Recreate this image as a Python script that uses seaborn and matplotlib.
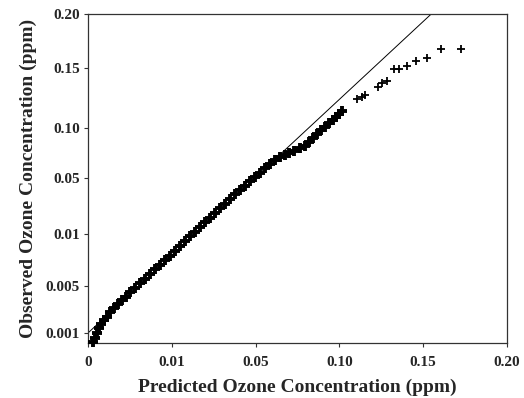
import numpy as np
import pandas as pd
import matplotlib
matplotlib.use("Agg")
import matplotlib.pyplot as plt
import seaborn as sns

# quantile pairs (ppm)
pred_q = [0.0006, 0.0008, 0.0011, 0.0013, 0.0015, 0.0019, 0.0023, 0.0026, 0.0031, 0.0036,
          0.0040, 0.0045, 0.0050, 0.0056, 0.0062, 0.0068, 0.0074, 0.0080, 0.0086, 0.0092,
          0.0098, 0.0114, 0.0138, 0.0162, 0.0186, 0.0210, 0.0233, 0.0257, 0.0281, 0.0305,
          0.0329, 0.0352, 0.0376, 0.0400, 0.0424, 0.0448, 0.0471, 0.0495, 0.0524, 0.0554,
          0.0583, 0.0613, 0.0643, 0.0673, 0.0702, 0.0732, 0.0762, 0.0792, 0.0821, 0.0845,
          0.0869, 0.0893, 0.0917, 0.0940, 0.0964, 0.0982, 0.1000, 0.1018,
          0.1107, 0.1137, 0.1155, 0.1232, 0.1256, 0.1286, 0.1327, 0.1357, 0.1405, 0.1458,
          0.1524, 0.1607, 0.1726]
obs_q = [0.0001, 0.0005, 0.0010, 0.0014, 0.0018, 0.0021, 0.0024, 0.0028, 0.0031, 0.0035,
         0.0038, 0.0041, 0.0045, 0.0048, 0.0053, 0.0057, 0.0062, 0.0066, 0.0070, 0.0075,
         0.0079, 0.0084, 0.0088, 0.0093, 0.0098, 0.0114, 0.0150, 0.0186, 0.0214, 0.0250,
         0.0286, 0.0314, 0.0350, 0.0386, 0.0414, 0.0443, 0.0479, 0.0510, 0.0550, 0.0600,
         0.0640, 0.0680, 0.0710, 0.0730, 0.0750, 0.0770, 0.0800, 0.0820, 0.0860, 0.0900,
         0.0940, 0.0980, 0.1008, 0.1042, 0.1067, 0.1092, 0.1117, 0.1142,
         0.1242, 0.1258, 0.1275, 0.1342, 0.1375, 0.1392, 0.1492, 0.1492, 0.1519, 0.1565,
         0.1593, 0.1676, 0.1676]
n_dense = 58  # the packed part of the curve, the rest are the sparse upper tail

# 1:1 reference line ends
ref_x = [0.0, 0.1548]
ref_y = [0.001, 0.20]

x_ticks = [0, 0.01, 0.05, 0.10, 0.15, 0.20]
x_labels = ["0", "0.01", "0.05", "0.10", "0.15", "0.20"]
y_ticks = [0.001, 0.005, 0.01, 0.05, 0.10, 0.15, 0.20]
y_labels = ["0.001", "0.005", "0.01", "0.05", "0.10", "0.15", "0.20"]

# axis stretch: where the tick values sit along each axis
x_knots = [0, 0.01, 0.05, 0.10, 0.15, 0.20]
x_pos = [0, 84, 168, 252, 336, 420]
y_knots = [0, 0.001, 0.005, 0.01, 0.05, 0.10, 0.15, 0.20]
y_pos = [0, 10, 57, 109, 165, 215, 275, 329]


def piecewise(knots, pos):
    k = np.asarray(knots, float)
    p = np.asarray(pos, float)

    def fwd(v):
        v = np.asarray(v, float)
        out = np.interp(v, k, p)
        lo, hi = v < k[0], v > k[-1]
        out = np.where(lo, p[0] + (v - k[0]) * (p[1] - p[0]) / (k[1] - k[0]), out)
        out = np.where(hi, p[-1] + (v - k[-1]) * (p[-1] - p[-2]) / (k[-1] - k[-2]), out)
        return out

    def inv(u):
        u = np.asarray(u, float)
        out = np.interp(u, p, k)
        lo, hi = u < p[0], u > p[-1]
        out = np.where(lo, k[0] + (u - p[0]) * (k[1] - k[0]) / (p[1] - p[0]), out)
        out = np.where(hi, k[-1] + (u - p[-1]) * (k[-1] - k[-2]) / (p[-1] - p[-2]), out)
        return out

    return fwd, inv


df = pd.DataFrame({"pred": pred_q, "obs": obs_q})
dense = df.iloc[:n_dense]
tail = df.iloc[n_dense:]

sns.set_style("ticks")
plt.rcParams["font.family"] = ["Liberation Serif", "DejaVu Serif"]
plt.rcParams["font.weight"] = "bold"

fig = plt.figure(figsize=(5.24, 3.98), dpi=100)
ax = fig.add_axes([88 / 524, 1 - 343 / 398, 419 / 524, 329 / 398])

ax.set_xscale("function", functions=piecewise(x_knots, x_pos))
ax.set_yscale("function", functions=piecewise(y_knots, y_pos))

ax.plot(ref_x, ref_y, color="black", lw=0.7, zorder=2)
sns.scatterplot(data=dense, x="pred", y="obs", marker="+", s=55, linewidth=2.8,
                color="black", ax=ax, zorder=3, clip_on=False)
sns.scatterplot(data=tail, x="pred", y="obs", marker="+", s=26, linewidth=1.3,
                color="black", ax=ax, zorder=3)

ax.set_xlim(0, 0.20)
ax.set_ylim(0, 0.20)
ax.set_xticks(x_ticks)
ax.set_xticklabels(x_labels)
ax.set_yticks(y_ticks)
ax.set_yticklabels(y_labels)
ax.minorticks_off()

ax.tick_params(axis="both", labelsize=11, length=3, width=0.8, color="#333333")
ax.tick_params(axis="y", pad=3)
ax.tick_params(axis="x", pad=6)
for lab in ax.get_xticklabels() + ax.get_yticklabels():
    lab.set_fontweight("bold")

for side in ["left", "right", "top", "bottom"]:
    ax.spines[side].set_color("#333333")
    ax.spines[side].set_linewidth(0.9)

ax.set_xlabel("Predicted Ozone Concentration (ppm)", fontsize=14, fontweight="bold", labelpad=7)
ax.set_ylabel("Observed Ozone Concentration (ppm)", fontsize=14, fontweight="bold", labelpad=6)

fig.savefig("out.png", dpi=100)
